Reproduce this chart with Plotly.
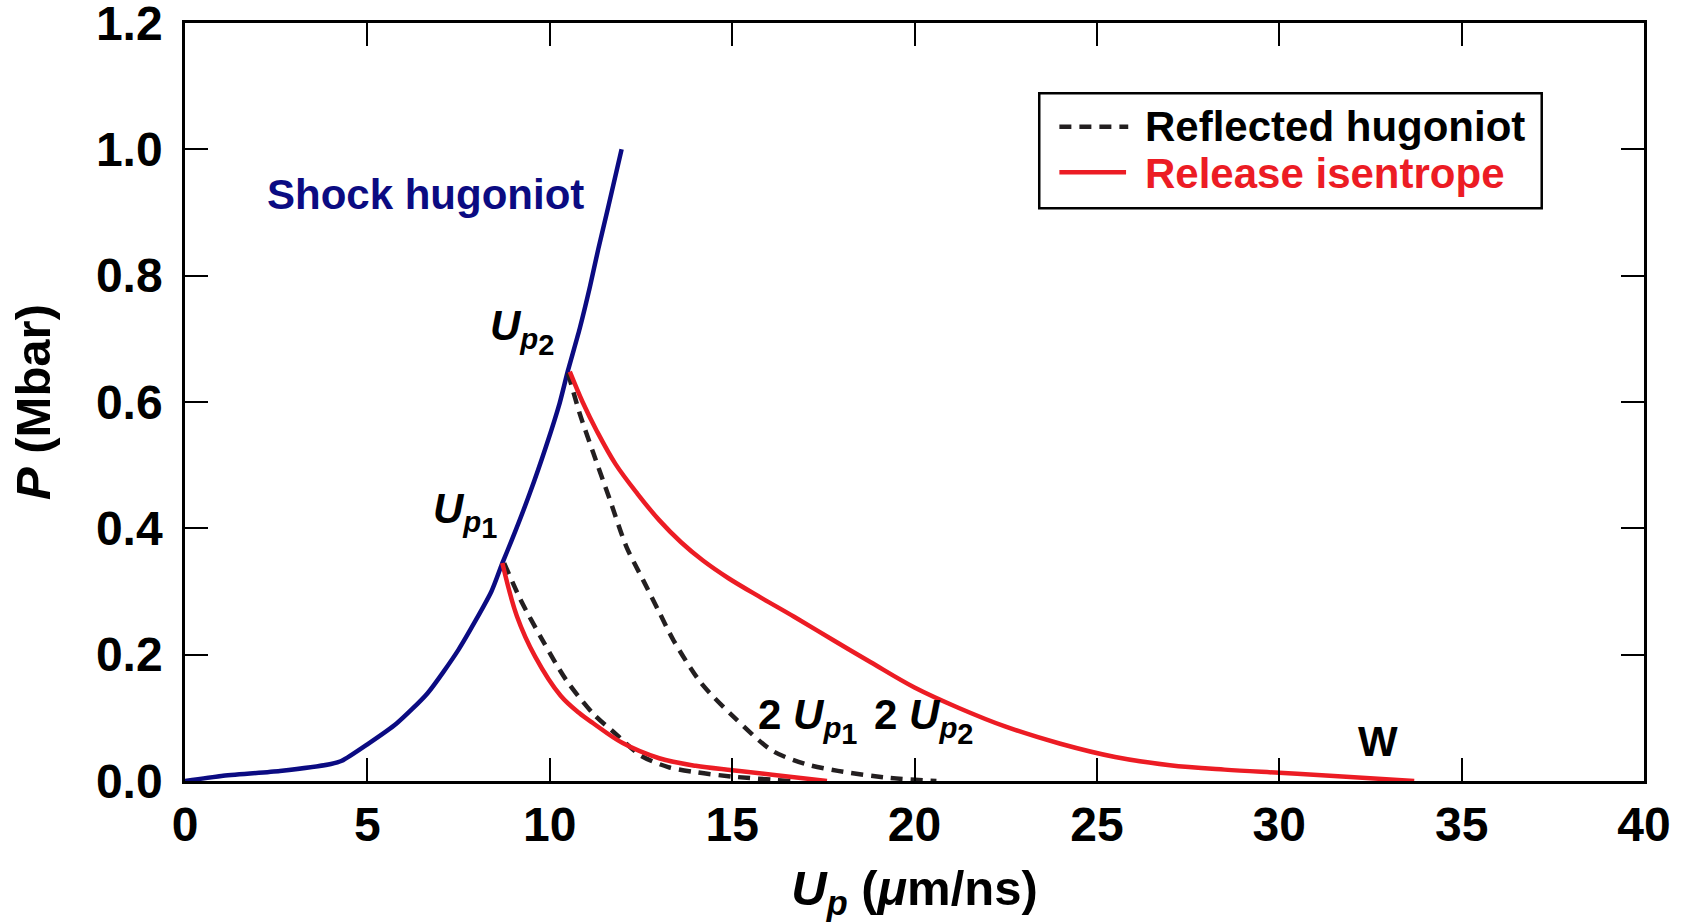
import plotly.graph_objects as go

# Shock hugoniot
hug_x = [0, 1.0, 2.6, 4.0, 4.3, 5.0, 5.8, 6.65, 7.5, 8.4, 8.7, 8.95, 9.45, 9.9, 10.27, 10.5, 10.82, 11.1, 11.33, 11.6, 11.97]
hug_y = [0, 0.008, 0.016, 0.027, 0.032, 0.058, 0.091, 0.139, 0.208, 0.30, 0.345, 0.38, 0.455, 0.53, 0.598, 0.65, 0.716, 0.782, 0.842, 0.908, 1.0]

# Reflected hugoniots (dashed)
ref1_x = [8.75, 9.2, 9.8, 10.45, 11.2, 11.8, 12.5, 13.25, 14.0, 15.0, 16.6]
ref1_y = [0.345, 0.287, 0.223, 0.16, 0.106, 0.075, 0.04, 0.022, 0.014, 0.007, 0.0]
ref2_x = [10.5, 10.82, 11.19, 11.65, 12.1, 12.56, 13.02, 13.4, 14.15, 15.05, 16.1, 17.0, 17.9, 19.3, 20.6]
ref2_y = [0.646, 0.582, 0.52, 0.445, 0.371, 0.318, 0.265, 0.222, 0.155, 0.101, 0.048, 0.027, 0.016, 0.005, 0.0]

# Release isentropes (red)
rel1_x = [8.7, 9.1, 9.6, 10.3, 10.8, 11.2, 12.0, 13.0, 14.0, 15.0, 16.1, 17.6]
rel1_y = [0.345, 0.261, 0.197, 0.135, 0.108, 0.091, 0.06, 0.036, 0.024, 0.017, 0.01, 0.0]
rel2_x = [10.55, 10.9, 11.3, 11.8, 12.4, 13.0, 13.6, 14.2, 14.9, 15.8, 16.7, 17.8, 18.8, 20.0, 21.2, 22.5, 24.0, 25.5, 27.0, 28.5, 30.0, 31.5, 33.7]
rel2_y = [0.648, 0.600, 0.553, 0.502, 0.455, 0.413, 0.378, 0.349, 0.321, 0.290, 0.260, 0.222, 0.188, 0.148, 0.116, 0.086, 0.059, 0.038, 0.025, 0.018, 0.013, 0.008, 0.0]

x_ticks = [0, 5, 10, 15, 20, 25, 30, 35, 40]
y_ticks = [0.0, 0.2, 0.4, 0.6, 0.8, 1.0, 1.2]
y_ticklabels = ["0.0", "0.2", "0.4", "0.6", "0.8", "1.0", "1.2"]

legend_labels = ["Reflected hugoniot", "Release isentrope"]

NAVY = "#0b0b82"
RED = "#ec1c24"
DASH = "#231f20"
FONT = "Liberation Sans"
DASHPAT = "12px,8px"
LW = 4.5

fig = go.Figure()
fig.add_trace(go.Scatter(x=hug_x, y=hug_y, mode="lines",
                         line=dict(color=NAVY, width=LW, shape="spline", smoothing=0.6),
                         showlegend=False))
for xs, ys in [(ref1_x, ref1_y), (ref2_x, ref2_y)]:
    fig.add_trace(go.Scatter(x=xs, y=ys, mode="lines",
                             line=dict(color=DASH, width=LW, dash=DASHPAT, shape="spline", smoothing=0.8),
                             name=legend_labels[0], showlegend=False))
for xs, ys in [(rel1_x, rel1_y), (rel2_x, rel2_y)]:
    fig.add_trace(go.Scatter(x=xs, y=ys, mode="lines",
                             line=dict(color=RED, width=LW, shape="spline", smoothing=1.0),
                             name=legend_labels[1], showlegend=False))


def up_label(digit, prefix=""):
    return (prefix + "<i>U</i><sub><i>p</i><sub><span style='font-size:29px'>%s</span></sub></sub>" % digit)


ann_font = dict(family=FONT, size=42, color="black", weight=700)
annotations = [
    dict(x=6.59, y=0.928, text="Shock hugoniot", font=dict(family=FONT, size=42, color=NAVY, weight=700)),
    dict(x=8.3, y=0.711, xanchor="left", text=up_label("2"), font=ann_font),
    dict(x=6.75, y=0.422, xanchor="left", text=up_label("1"), font=ann_font),
    dict(x=15.65, y=0.096, xanchor="left", text=up_label("1", "2 "), font=ann_font),
    dict(x=18.83, y=0.096, xanchor="left", text=up_label("2", "2 "), font=ann_font),
    dict(x=32.7, y=0.063, text="W", font=ann_font),
]
for a in annotations:
    a.update(xref="x", yref="y", showarrow=False)

# manual legend (paper coordinates)
annotations += [
    dict(xref="paper", yref="paper", x=0.6568, y=0.8632, xanchor="left", yanchor="middle",
         text=legend_labels[0], showarrow=False, font=dict(family=FONT, size=42, color="black", weight=700)),
    dict(xref="paper", yref="paper", x=0.6568, y=0.8021, xanchor="left", yanchor="middle",
         text=legend_labels[1], showarrow=False, font=dict(family=FONT, size=42, color=RED, weight=700)),
]
shapes = [
    dict(type="rect", xref="paper", yref="paper", x0=0.5855, x1=0.9299, y0=0.7555, y1=0.9073,
         line=dict(color="black", width=2.5), fillcolor="white", layer="above"),
    dict(type="line", xref="paper", yref="paper", x0=0.5993, x1=0.6465, y0=0.8632, y1=0.8632,
         line=dict(color=DASH, width=LW, dash=DASHPAT)),
    dict(type="line", xref="paper", yref="paper", x0=0.5993, x1=0.6450, y0=0.8030, y1=0.8030,
         line=dict(color=RED, width=LW)),
]

fig.update_layout(
    width=1681, height=922,
    margin=dict(l=185, r=37, t=23, b=141, autoexpand=False),
    paper_bgcolor="white", plot_bgcolor="white",
    font=dict(family=FONT, size=42, color="black", weight=700),
    showlegend=False,
    annotations=annotations,
    shapes=shapes,
)
fig.update_xaxes(range=[0, 40], tickvals=x_ticks, ticks="inside", ticklen=23, tickwidth=2,
                 tickcolor="black", showline=True, linecolor="black", linewidth=2.5,
                 mirror="ticks", showgrid=False, zeroline=False, ticklabeloverflow="allow",
                 tickfont=dict(family=FONT, size=48, weight=700),
                 title=dict(text="<i>U<sub>p</sub></i> (<i>μ</i>m/ns)",
                            font=dict(family=FONT, size=49, weight=700), standoff=22))
fig.update_yaxes(range=[0, 1.2], tickvals=y_ticks, ticktext=y_ticklabels, ticks="inside",
                 ticklen=23, tickwidth=2, tickcolor="black", showline=True, linecolor="black",
                 linewidth=2.5, mirror="ticks", showgrid=False, zeroline=False,
                 ticklabeloverflow="allow", ticklabelstandoff=10,
                 tickfont=dict(family=FONT, size=48, weight=700),
                 title=dict(text="<i>P</i> (Mbar)", font=dict(family=FONT, size=49, weight=700),
                            standoff=30))

fig.write_html("out.html")
